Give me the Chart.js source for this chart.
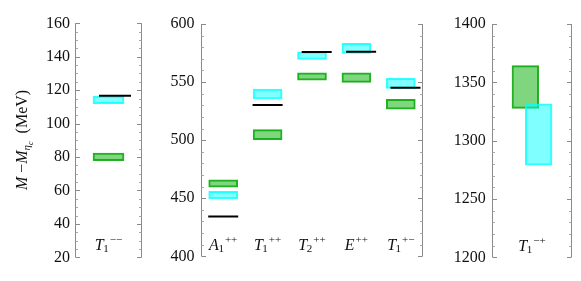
<!DOCTYPE html>
<html><head><meta charset="utf-8">
<script src="https://cdn.jsdelivr.net/npm/chart.js@4"></script>
<style>
html,body{margin:0;padding:0;background:#fff;overflow:hidden;width:581px;height:281px}
canvas{position:absolute;top:0}
</style>
</head><body>
<canvas id="c1" width="160" height="281" style="left:0px"></canvas>
<canvas id="c2" width="280" height="281" style="left:160px"></canvas>
<canvas id="c3" width="141" height="281" style="left:440px"></canvas>
<script>
// ---------- DATA ----------
const p1Categories = ['T_1^--'];
const p1Green = [[77.8, 82.3]];
const p1Cyan = [[111.9, 116.5]];
const p1Black = [116.7];
const p1Ticks = [20, 40, 60, 80, 100, 120, 140, 160];

const p2Categories = ['A_1^++', 'T_1^++', 'T_2^++', 'E^++', 'T_1^+-'];
const p2Green = [[459.5, 465.8], [500.4, 509.1], [551.7, 558.0], [549.7, 558.0], [526.7, 535.1]];
const p2Cyan = [[449.4, 456.0], [535.6, 544.0], [569.6, 576.1], [574.7, 583.4], [544.6, 553.2]];
const p2Black = [434.2, 530.2, 576.0, 576.1, 545.1];
const p2Ticks = [400, 450, 500, 550, 600];

const p3Categories = ['T_1^-+'];
const p3Green = [[1327.6, 1364.3]];
const p3Cyan = [[1279.0, 1331.6]];
const p3Black = [];
const p3Ticks = [1200, 1250, 1300, 1350, 1400];

// ---------- STYLE / LAYOUT ----------
const GREEN_FILL = 'rgba(0,174,0,0.5)';
const GREEN_EDGE = 'rgb(36,178,36)';
const CYAN_FILL = 'rgba(0,255,255,0.5)';
const CYAN_EDGE = 'rgba(0,255,255,0.8)';
const SERIF = "'Liberation Serif', 'DejaVu Serif', serif";
Chart.defaults.font.family = SERIF;
Chart.defaults.font.size = 16;

const layout1 = {axisW: 75, pad: {top: 23.3, bottom: 23.7, right: 6.7}, tickPad: 5,
  barPx: 31, linePx: 32, greenShift: 0, cyanShift: 0, blackShift: [0.097], minor: 5, labelDy: 7.5};
const layout2 = {axisW: 41, pad: {top: 24, bottom: 24.7, right: 7.3}, tickPad: 6.5,
  barPx: 29, linePx: 30, greenShift: 0, cyanShift: 0, blackShift: [0, 0, 0.106, 0.106, 0.106], minor: 10, labelDy: 6.5};
const layout3 = {axisW: 52.3, pad: {top: 24, bottom: 23.7, right: 9.3}, tickPad: 6.5,
  barPx: 26.7, linePx: 30, greenShift: -0.084, cyanShift: 0.084, blackShift: [0], minor: 10, labelDy: 6.5};

// ---------- PLUGINS ----------
const framePlugin = {
  id: 'frame',
  afterDraw(chart, args, opts) {
    const {ctx, chartArea: a} = chart;
    const y = chart.scales.y;
    ctx.save();
    ctx.lineWidth = 1;
    const L = Math.round(a.left) + 0.5, R = Math.round(a.right) - 0.5;
    ctx.strokeStyle = '#8a8a8a';
    ctx.beginPath();
    ctx.moveTo(L, a.top); ctx.lineTo(L, a.bottom);
    ctx.moveTo(R, a.top); ctx.lineTo(R, a.bottom);
    ctx.stroke();
    const majors = y.ticks.map(t => t.value);
    for (let v = y.min; v <= y.max + 1e-9; v += opts.minor) {
      const isMajor = majors.some(m => Math.abs(m - v) < 1e-6);
      const py = Math.round(y.getPixelForValue(v)) + 0.5;
      const len = isMajor ? 4.5 : 2.5;
      ctx.strokeStyle = isMajor ? '#8a8a8a' : '#a8a8a8';
      ctx.beginPath();
      ctx.moveTo(L, py); ctx.lineTo(L + len, py);
      ctx.moveTo(R, py); ctx.lineTo(R - len, py);
      ctx.stroke();
    }
    ctx.restore();
  }
};

function parseLabel(s) {
  const m = s.match(/^([^_^]+)(?:_([^\^]+))?(?:\^(.+))?$/);
  return {base: m[1], sub: m[2] || '', sup: (m[3] || '').replace(/-/g, '\u2212')};
}

function drawRich(ctx, parts, cx, y) {
  let w = 0;
  parts.forEach(p => { ctx.font = p.font; p.w = ctx.measureText(p.t).width; w += p.w + (p.dx || 0); });
  let x = cx - w / 2;
  parts.forEach(p => {
    ctx.font = p.font;
    ctx.fillText(p.t, x + (p.dx || 0), y + (p.dy || 0));
    x += p.w + (p.dx || 0);
  });
}

const labelPlugin = {
  id: 'catLabels',
  afterDatasetsDraw(chart, args, opts) {
    const {ctx, chartArea: a} = chart;
    const x = chart.scales.x;
    ctx.save();
    ctx.fillStyle = '#111';
    ctx.textBaseline = 'alphabetic';
    ctx.textAlign = 'left';
    opts.labels.forEach((s, i) => {
      const L = parseLabel(s);
      const parts = [{t: L.base, font: 'italic 16px ' + SERIF}];
      if (L.sub) parts.push({t: L.sub, font: '11px ' + SERIF, dy: 2.5, dx: -0.5});
      if (L.sup) parts.push({t: L.sup, font: '11px ' + SERIF, dy: -7, dx: 1});
      drawRich(ctx, parts, x.getPixelForValue(i), a.bottom - opts.dy);
    });
    ctx.restore();
  }
};

const titlePlugin = {
  id: 'ytitle',
  afterDraw(chart) {
    const {ctx} = chart;
    ctx.save();
    ctx.fillStyle = '#111';
    ctx.textBaseline = 'alphabetic';
    ctx.textAlign = 'left';
    ctx.translate(26.5, 140);
    ctx.rotate(-Math.PI / 2);
    const parts = [
      {t: 'M', font: 'italic 16px ' + SERIF},
      {t: ' \u2212', font: '16px ' + SERIF},
      {t: 'M', font: 'italic 16px ' + SERIF},
      {t: '\u03B7', font: 'italic 11px ' + SERIF, dy: 3.5, dx: 0},
      {t: 'c', font: 'italic 8px ' + SERIF, dy: 6.5},
      {t: '  (MeV)', font: '16px ' + SERIF}
    ];
    drawRich(ctx, parts, 0, 0);
    ctx.restore();
  }
};

// ---------- BUILD ----------
function makePanel(id, categories, green, cyan, black, ticks, lay, extraPlugins) {
  const n = categories.length;
  const datasets = [
    {type: 'bar', label: 'green', order: 2, grouped: false,
     data: green.map((r, i) => ({x: i + lay.greenShift, y: r})),
     backgroundColor: GREEN_FILL, borderColor: GREEN_EDGE, borderWidth: 1.3,
     borderSkipped: false, barThickness: lay.barPx},
    {type: 'bar', label: 'cyan', order: 1, grouped: false,
     data: cyan.map((r, i) => ({x: i + lay.cyanShift, y: r})),
     backgroundColor: CYAN_FILL, borderColor: CYAN_EDGE, borderWidth: 1.3,
     borderSkipped: false, barThickness: lay.barPx},
    {type: 'scatter', label: 'black', order: 0, showLine: false,
     data: black.map((v, i) => ({x: i + lay.blackShift[i], y: v})),
     pointStyle: 'line', pointRadius: lay.linePx / 2, pointHoverRadius: lay.linePx / 2,
     borderColor: '#000', pointBorderColor: '#000', borderWidth: 2, pointBorderWidth: 2,
     backgroundColor: '#000'}
  ];
  return new Chart(document.getElementById(id), {
    type: 'bar',
    data: {datasets},
    plugins: [framePlugin, labelPlugin].concat(extraPlugins || []),
    options: {
      responsive: false, animation: false, events: [],
      layout: {padding: {left: 0, right: lay.pad.right, top: lay.pad.top, bottom: lay.pad.bottom}},
      plugins: {
        legend: {display: false}, tooltip: {enabled: false},
        frame: {minor: lay.minor},
        catLabels: {labels: categories, dy: lay.labelDy}
      },
      scales: {
        x: {type: 'linear', min: -0.5, max: n - 0.5, display: false, offset: false},
        y: {
          min: ticks[0], max: ticks[ticks.length - 1],
          afterBuildTicks: s => { s.ticks = ticks.map(v => ({value: v})); },
          afterFit: s => { s.width = lay.axisW; },
          grid: {display: false, drawTicks: false},
          border: {display: false},
          ticks: {font: {family: SERIF, size: 16, style: 'normal'}, color: '#111',
                  padding: lay.tickPad, autoSkip: false, callback: v => String(v)}
        }
      }
    }
  });
}

makePanel('c1', p1Categories, p1Green, p1Cyan, p1Black, p1Ticks, layout1, [titlePlugin]);
makePanel('c2', p2Categories, p2Green, p2Cyan, p2Black, p2Ticks, layout2);
makePanel('c3', p3Categories, p3Green, p3Cyan, p3Black, p3Ticks, layout3);
</script>
</body></html>
